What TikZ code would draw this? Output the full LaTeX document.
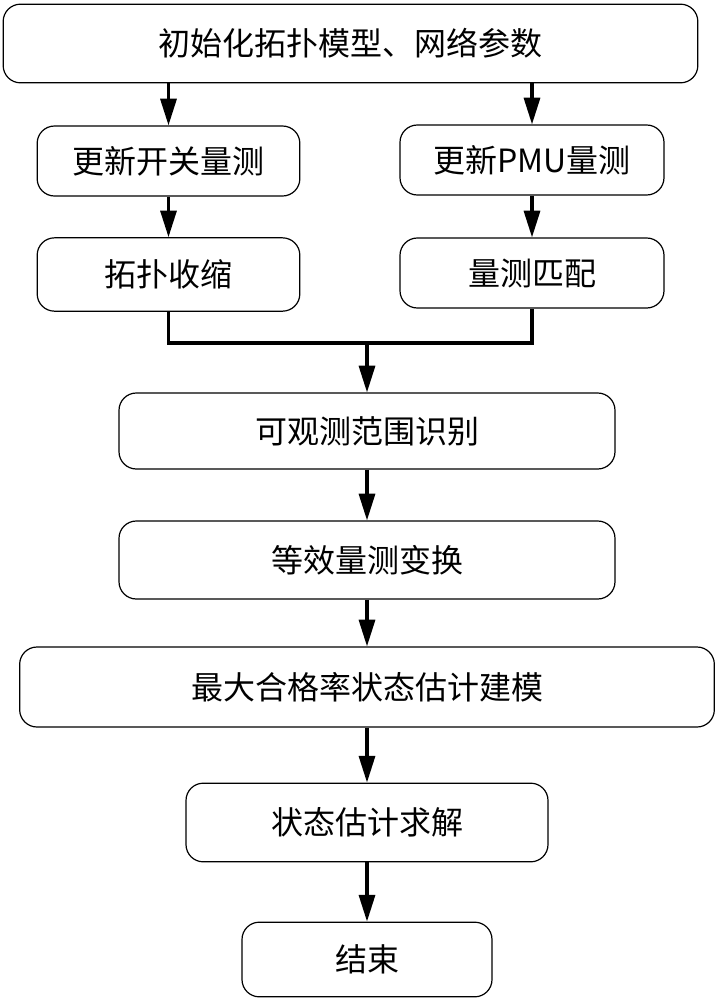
\documentclass[tikz,border=0pt]{standalone}
\usepackage{fontspec}
\setmainfont{Noto Sans CJK SC}
\usetikzlibrary{arrows.meta}

\tikzset{every picture/.style={line width=0.75pt}}
\tikzset{
  procbox/.style={draw, rounded corners=13pt, line width=0.9pt, inner sep=0pt,
    font=\fontsize{24}{28}\selectfont},
  flow/.style={line width=2.4pt, -{Triangle[length=20pt,width=12pt]}},
  joinline/.style={line width=2.4pt}
}

\begin{document}
\begin{tikzpicture}[x=0.75pt,y=0.75pt,yscale=-1,xscale=1]

\useasboundingbox (0,0) rectangle (716,1000);

\node [procbox, minimum width=521pt, minimum height=59pt] (init) at (350.5,43.5) {初始化拓扑模型、网络参数};
\node [procbox, minimum width=197pt, minimum height=52.5pt] (sw) at (168.5,161) {更新开关量测};
\node [procbox, minimum width=198pt, minimum height=52.5pt] (pmu) at (532,160) {更新PMU量测};
\node [procbox, minimum width=197pt, minimum height=55pt] (topo) at (168.5,274.5) {拓扑收缩};
\node [procbox, minimum width=198pt, minimum height=52.5pt] (match) at (532,273) {量测匹配};
\node [procbox, minimum width=372pt, minimum height=57pt] (obs) at (367,431) {可观测范围识别};
\node [procbox, minimum width=372pt, minimum height=58.5pt] (equiv) at (367,560) {等效量测变换};
\node [procbox, minimum width=521pt, minimum height=60pt] (model) at (367,687) {最大合格率状态估计建模};
\node [procbox, minimum width=271.5pt, minimum height=59pt] (solve) at (367,822.5) {状态估计求解};
\node [procbox, minimum width=187.5pt, minimum height=56pt] (stop) at (367,959.5) {结束};

\coordinate (join) at (367,343);

\draw [flow] (sw.north |- init.south) -- (sw.north);
\draw [flow] (pmu.north |- init.south) -- (pmu.north);
\draw [flow] (sw) -- (topo);
\draw [flow] (pmu) -- (match);
\draw [joinline] (topo.south) |- (join) -| (match.south);
\draw [flow] (join) -- (obs);
\draw [flow] (obs) -- (equiv);
\draw [flow] (equiv) -- (model);
\draw [flow] (model) -- (solve);
\draw [flow] (solve) -- (stop);

\end{tikzpicture}
\end{document}
